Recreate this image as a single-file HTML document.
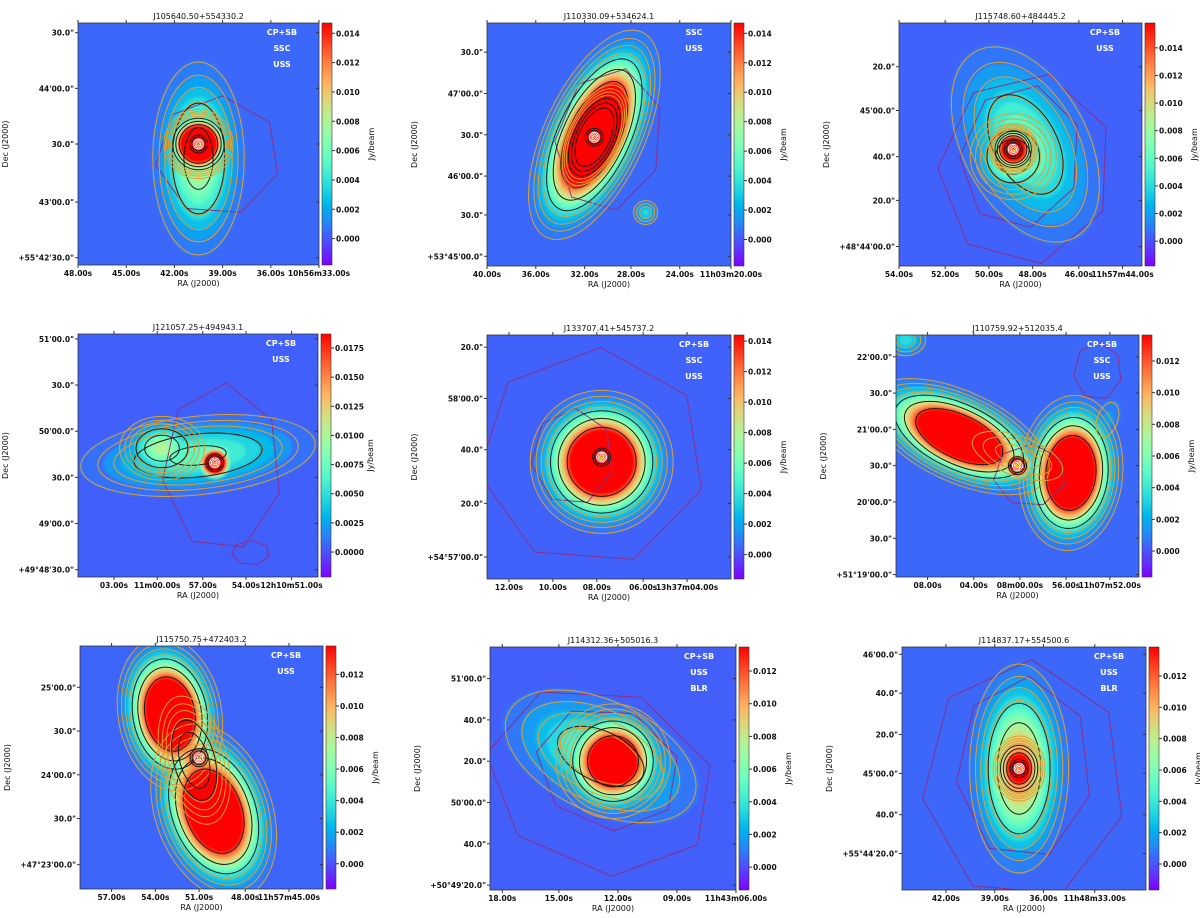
<!DOCTYPE html>
<html><head><meta charset="utf-8"><style>
html,body{margin:0;padding:0;background:#fff;}
svg{display:block;font-family:"DejaVu Sans","Liberation Sans",sans-serif;}
text{fill:#111;}
</style></head><body>
<svg id="fig" width="1200" height="918" viewBox="0 0 1200 918" xmlns="http://www.w3.org/2000/svg">
<defs><filter id="bl" x="-5%" y="-5%" width="110%" height="110%"><feGaussianBlur stdDeviation="1.2"/></filter></defs>
</svg>
<script>
// ---- data ----
const titles = ["J105640.50+554330.2","J110330.09+534624.1","J115748.60+484445.2","J121057.25+494943.1","J133707.41+545737.2","J110759.92+512035.4","J115750.75+472403.2","J114312.36+505016.3","J114837.17+554500.6"];
const flags = [["CP+SB","SSC","USS"],["SSC","USS"],["CP+SB","USS"],["CP+SB","USS"],["CP+SB","SSC","USS"],["CP+SB","SSC","USS"],["CP+SB","USS"],["CP+SB","USS","BLR"],["CP+SB","USS","BLR"]];
const vmins = [-0.0018,-0.0018,-0.0018,-0.00214,-0.0016,-0.00164,-0.0016,-0.0014,-0.00166];
const vmaxs = [0.0147,0.0147,0.0158,0.0187,0.0144,0.01364,0.0138,0.01347,0.01385];
const cbTicks = [
 [0,0.002,0.004,0.006,0.008,0.010,0.012,0.014],
 [0,0.002,0.004,0.006,0.008,0.010,0.012,0.014],
 [0,0.002,0.004,0.006,0.008,0.010,0.012,0.014],
 [0,0.0025,0.005,0.0075,0.01,0.0125,0.015,0.0175],
 [0,0.002,0.004,0.006,0.008,0.010,0.012,0.014],
 [0,0.002,0.004,0.006,0.008,0.010,0.012],
 [0,0.002,0.004,0.006,0.008,0.010,0.012],
 [0,0.002,0.004,0.006,0.008,0.010,0.012],
 [0,0.002,0.004,0.006,0.008,0.010,0.012]];
const yTickLabels = [
 ['30.0"',"44'00.0\"",'30.0"',"43'00.0\"","+55°42'30.0\""],
 ['30.0"',"47'00.0\"",'30.0"',"46'00.0\"",'30.0"',"+53°45'00.0\""],
 ['20.0"',"45'00.0\"",'40.0"','20.0"',"+48°44'00.0\""],
 ["51'00.0\"",'30.0"',"50'00.0\"",'30.0"',"49'00.0\"","+49°48'30.0\""],
 ['20.0"',"58'00.0\"",'40.0"','20.0"',"+54°57'00.0\""],
 ["22'00.0\"",'30.0"',"21'00.0\"",'30.0"',"20'00.0\"",'30.0"',"+51°19'00.0\""],
 ["25'00.0\"",'30.0"',"24'00.0\"",'30.0"',"+47°23'00.0\""],
 ["51'00.0\"",'40.0"','20.0"',"50'00.0\"",'40.0"',"+50°49'20.0\""],
 ["46'00.0\"",'40.0"','20.0"',"45'00.0\"",'40.0"',"+55°44'20.0\""]];
const yTickPos = [[.04,.27,.5,.74,.97],[.12,.29,.46,.63,.79,.96],[.18,.36,.55,.73,.92],[.02,.21,.40,.59,.78,.97],[.05,.26,.47,.69,.91],[.09,.24,.39,.54,.69,.84,.99],[.17,.35,.53,.71,.90],[.13,.30,.47,.64,.81,.98],[.03,.19,.36,.52,.69,.85]];
const xTickLabels = [
 ["48.00s","45.00s","42.00s","39.00s","36.00s","10h56m33.00s"],
 ["40.00s","36.00s","32.00s","28.00s","24.00s","11h03m20.00s"],
 ["54.00s","52.00s","50.00s","48.00s","46.00s","11h57m44.00s"],
 ["03.00s","11m00.00s","57.00s","54.00s","12h10m51.00s"],
 ["12.00s","10.00s","08.00s","06.00s","13h37m04.00s"],
 ["08.00s","04.00s","08m00.00s","56.00s","11h07m52.00s"],
 ["57.00s","54.00s","51.00s","48.00s","11h57m45.00s"],
 ["18.00s","15.00s","12.00s","09.00s","11h43m06.00s"],
 ["42.00s","39.00s","36.00s","11h48m33.00s"]];
const xTickPos = [[0,.2,.4,.6,.8,1],[0,.2,.4,.59,.79,1],[0,.19,.37,.55,.74,.92],[.15,.33,.52,.70,.89],[.09,.27,.45,.64,.82],[.13,.32,.51,.70,.88],[.13,.31,.49,.68,.86],[.05,.28,.52,.76,1],[.18,.38,.58,.79]];
// sources: [fx, fy, sigmaX, sigmaY, rotDeg, peak(Jy/beam)]
const sources = [
 [[.5,.56,.09,.19,0,.009],[.5,.5,.05,.05,0,.05]],
 [[.44,.46,.075,.17,25,.035],[.44,.47,.04,.08,25,.05],[.65,.78,.03,.03,0,.004]],
 [[.52,.5,.13,.22,-28,.007],[.47,.55,.08,.08,0,.011],[.47,.52,.035,.035,0,.05]],
 [[.5,.5,.24,.08,-6,.008],[.35,.47,.08,.06,0,.011],[.57,.53,.03,.03,0,.06]],
 [[.47,.52,.11,.11,0,.03],[.47,.5,.03,.03,0,.05]],
 [[.26,.42,.15,.07,25,.03],[.72,.57,.08,.12,5,.03],[.5,.54,.025,.025,0,.04],[.5,.5,.12,.05,20,.004],[.04,.02,.05,.04,0,.004],[.87,.35,.04,.07,20,.002]],
 [[.37,.28,.08,.12,-10,.03],[.55,.68,.09,.14,-20,.03],[.47,.47,.06,.12,-15,.012],[.49,.46,.02,.02,0,.04]],
 [[.45,.45,.22,.12,25,.006],[.5,.47,.09,.09,0,.025]],
 [[.48,.5,.09,.19,0,.012],[.48,.5,.04,.05,0,.03]]];
// purple low-res contours: [fx, fy, rx, ry, rotDeg]
const purple = [
 [[.58,.55,.26,.25,0]],
 [[.5,.48,.22,.3,10]],
 [[.52,.6,.36,.4,10],[.5,.55,.25,.3,10]],
 [[.6,.55,.25,.35,0],[.72,.9,.08,.05,0]],
 [[.43,.5,.47,.45,0],[.35,.5,.17,.2,0]],
 [[.83,.15,.1,.12,0],[.55,.58,.15,.13,0]],
 [],
 [[.45,.55,.48,.38,20],[.48,.5,.3,.25,20]],
 [[.5,.55,.42,.5,0],[.5,.5,.28,.38,0]]];
// layout
const panelX = [78,487,899,78,487,896,80,490,902];
const panelY = [23,23,23,334,335,335,646,647,647];
const panelW = [241,244,243,240,244,243,243,246,244];
const panelH = [242,243,243,243,244,242,243,243,243];

const NS="http://www.w3.org/2000/svg";
const svg=document.getElementById('fig');
function mk(tag,attrs,parent){const e=document.createElementNS(NS,tag);for(const k in attrs)e.setAttribute(k,attrs[k]);(parent||svg).appendChild(e);return e;}
function cl(v){return Math.max(0,Math.min(1,v));}
function cmap(x){x=cl(x);const r=cl(Math.abs(2*x-0.5)),g=cl(Math.sin(Math.PI*x)),b=cl(Math.cos(Math.PI*x/2));return `rgb(${Math.round(r*255)},${Math.round(g*255)},${Math.round(b*255)})`;}
function poly(cx,cy,rx,ry,rot,n){let pts=[];for(let i=0;i<n;i++){const a=i/n*2*Math.PI+0.3;const px=rx*Math.cos(a),py=ry*Math.sin(a);const t=rot*Math.PI/180;pts.push((cx+px*Math.cos(t)-py*Math.sin(t)).toFixed(1)+','+(cy+px*Math.sin(t)+py*Math.cos(t)).toFixed(1));}return pts.join(' ');}

for(let p=0;p<9;p++){
  const X=panelX[p],Y=panelY[p],W=panelW[p],H=panelH[p],vmin=vmins[p],vmax=vmaxs[p];
  const sx=v=>X+v*W, sy=v=>Y+v*H, cv=v=>(v-vmin)/(vmax-vmin);
  const g=mk('g',{});
  
  
  const cp=mk('clipPath',{id:'c'+p},g);mk('rect',{x:X,y:Y,width:W,height:H},cp);
  const img=mk('g',{'clip-path':`url(#c${p})`},g);
  
  
  mk('rect',{x:X,y:Y,width:W,height:H,fill:cmap(cv(0.0004))},img);
  const heat=mk('g',{filter:'url(#bl)'},img);
  const srcs=sources[p];
  const nL=16;
  for(let i=1;i<=nL;i++){
    const L=0.0009+(vmax-0.0009)*(i-1)/(nL-1);
    srcs.forEach(s=>{
      if(s[5]<=L)return;
      const k=Math.sqrt(2*Math.log(s[5]/L));
      const e=mk('ellipse',{cx:sx(s[0]),cy:sy(s[1]),rx:s[2]*W*k,ry:s[3]*W*k,fill:cmap(cv(L)),transform:`rotate(${s[4]} ${sx(s[0])} ${sy(s[1])})`},heat);
      
      
    });
  }
  purple[p].forEach(q=>{
    const e=mk('polygon',{points:poly(sx(q[0]),sy(q[1]),q[2]*W,q[3]*H,q[4],7),fill:'none',stroke:'#8a2f8a','stroke-width':1},img);
    
    
  });
  srcs.forEach(s=>{
    if(s[2]<0.035&&s[5]>0.03)return;
    [0.0012,0.002,0.003,0.0045].forEach(L=>{
      if(s[5]<=L)return;const k=Math.sqrt(2*Math.log(s[5]/L))*1.05;
      const e=mk('ellipse',{cx:sx(s[0]),cy:sy(s[1]),rx:s[2]*W*k,ry:s[3]*W*k,fill:'none',stroke:'#e0a030','stroke-width':1,transform:`rotate(${s[4]} ${sx(s[0])} ${sy(s[1])})`},img);
      
      
    });
    [0.004,0.007,0.012].forEach(L=>{
      if(s[5]<=L)return;const k=Math.sqrt(2*Math.log(s[5]/L))*0.95;
      const e=mk('ellipse',{cx:sx(s[0]),cy:sy(s[1]),rx:s[2]*W*k,ry:s[3]*W*k,fill:'none',stroke:'#1a1a1a','stroke-width':1,transform:`rotate(${s[4]} ${sx(s[0])} ${sy(s[1])})`},img);
      
      
    });
  });
  srcs.forEach(s=>{
    if(!(s[2]<0.06&&s[5]>=0.03))return;
    const cx=sx(s[0]),cy=sy(s[1]);
    [9,7].forEach(r=>{const e=mk('circle',{cx,cy,r,fill:'none',stroke:'#1a1a1a','stroke-width':1},img);});
    [5,3.5,2].forEach(r=>{const e=mk('circle',{cx,cy,r,fill:'none',stroke:'#fff','stroke-width':0.9},img);});
    const m=mk('text',{x:cx,y:cy+2.5,'font-size':7,'text-anchor':'middle',style:'fill:#ff0'},img);m.textContent='×';
    
    
  });
  mk('rect',{x:X,y:Y,width:W,height:H,fill:'none',stroke:'#333','stroke-width':0.8},g);
  flags[p].forEach((f,i)=>{
    const t=mk('text',{x:X+W-37,y:Y+12+i*16,'font-size':8,'text-anchor':'middle',style:'fill:#fff;font-weight:bold'},g);
    t.textContent=f;
    
    
  });
  const tt=mk('text',{x:X+W/2,y:Y-4,'font-size':8,'text-anchor':'middle'},g);tt.textContent=titles[p];
  
  
  yTickPos[p].forEach((v,i)=>{
    mk('line',{x1:X-3,x2:X,y1:sy(v),y2:sy(v),stroke:'#333'},g);
    mk('line',{x1:X+W-3,x2:X+W,y1:sy(v),y2:sy(v),stroke:'#333'},g);
    const t=mk('text',{x:X-4,y:sy(v)+3,'font-size':7.5,'text-anchor':'end','font-weight':'bold'},g);t.textContent=yTickLabels[p][i];
    
    
  });
  xTickPos[p].forEach((v,i)=>{
    mk('line',{x1:sx(v),x2:sx(v),y1:Y+H,y2:Y+H+3,stroke:'#333'},g);
    mk('line',{x1:sx(v),x2:sx(v),y1:Y,y2:Y-3,stroke:'#333'},g);
    const t=mk('text',{x:sx(v),y:Y+H+11,'font-size':7.5,'text-anchor':'middle','font-weight':'bold'},g);t.textContent=xTickLabels[p][i];
    
    
  });
  const xa=mk('text',{x:X+W/2,y:Y+H+21,'font-size':8,'text-anchor':'middle'},g);xa.textContent='RA (J2000)';
  
  
  const yx=X-70;
  const ya=mk('text',{x:yx,y:Y+H/2,'font-size':8,'text-anchor':'middle',transform:`rotate(-90 ${yx} ${Y+H/2})`},g);ya.textContent='Dec (J2000)';
  
  
  const cbx=X+W+3,cbw=10;
  const gr=mk('linearGradient',{id:'gr'+p,x1:0,y1:1,x2:0,y2:0},g);
  for(let i=0;i<=20;i++)mk('stop',{offset:i/20,'stop-color':cmap(i/20)},gr);
  const cb=mk('rect',{x:cbx,y:Y,width:cbw,height:H,fill:`url(#gr${p})`,stroke:'#333','stroke-width':0.6},g);
  
  
  cbTicks[p].forEach(v=>{
    const yy=Y+H-(v-vmin)/(vmax-vmin)*H;
    mk('line',{x1:cbx+cbw,x2:cbx+cbw+3,y1:yy,y2:yy,stroke:'#333'},g);
    const t=mk('text',{x:cbx+cbw+4,y:yy+3,'font-size':7.5,'font-weight':'bold'},g);
    t.textContent=(p===3)?v.toFixed(4):v.toFixed(3);
    
    
  });
  const jx=cbx+cbw+42;
  const jb=mk('text',{x:jx,y:Y+H/2,'font-size':8,'text-anchor':'middle',transform:`rotate(-90 ${jx} ${Y+H/2})`},g);jb.textContent='Jy/beam';
  
  
}
</script>
</body></html>
